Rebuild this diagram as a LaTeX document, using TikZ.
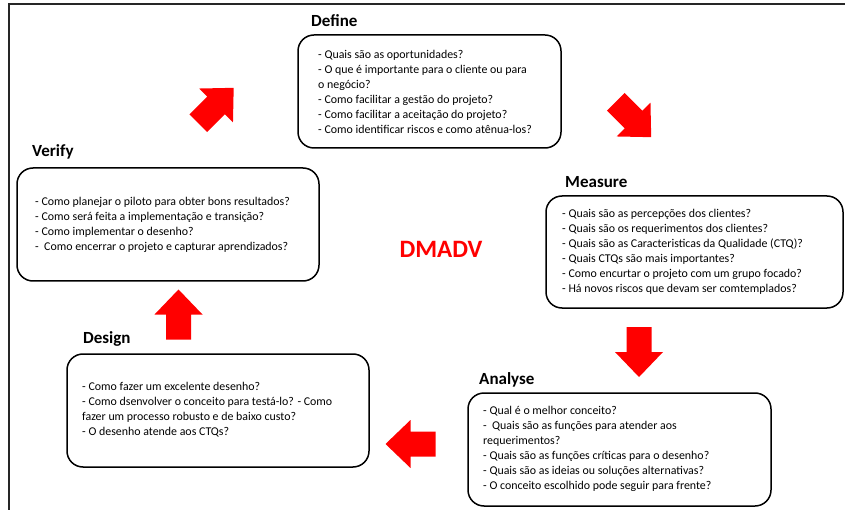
\documentclass[tikz,border=0pt]{standalone}
\usepackage{fontspec}
\setmainfont{Carlito}
\begin{document}
\begin{tikzpicture}[x=1pt,y=-1pt,
  panel/.style={draw=black, line width=1.5pt, rounded corners=16pt, inner sep=0pt},
  body/.style={anchor=west, align=left, inner sep=0pt, text=black,
               font=\fontsize{11.9}{15}\selectfont},
  heading/.style={anchor=base west, inner sep=0pt, text=black,
                  font=\fontsize{17}{20}\selectfont\bfseries},
  frame/.style={draw=black!85, line width=1.8pt},
  blockarrow/.pic={\fill[red] (-25,12.5) -- (0,12.5) -- (0,24) -- (25,0)
                    -- (0,-24) -- (0,-12.5) -- (-25,-12.5) -- cycle;}
]
\useasboundingbox (0,0) rectangle (845,510);

% outer frame (top and left edges)
\draw[frame] (9,512) -- (9,4) -- (847,4);

% panels
\node[panel, minimum width=263pt, minimum height=113pt] (define)  at (429.5,91.5) {};
\node[panel, minimum width=297pt, minimum height=112pt] (measure) at (694.5,252) {};
\node[panel, minimum width=303pt, minimum height=113pt] (analyse) at (619.5,449.5) {};
\node[panel, minimum width=302pt, minimum height=113pt] (design)  at (218,410.5) {};
\node[panel, minimum width=302pt, minimum height=113pt] (verify)  at (168,224.5) {};

% headings
\node[heading] (defineT)  at (311,27)  {Define};
\node[heading] (measureT) at (565,188) {Measure};
\node[heading] (analyseT) at (479,384) {Analyse};
\node[heading] (designT)  at (83,343)  {Design};
\node[heading] (verifyT)  at (32,157)  {Verify};

% panel texts
\node[body] (defineB) at (318,91.5) {- Quais são as oportunidades?\\
- O que é importante para o cliente ou para\\
o negócio?\\
- Como facilitar a gestão do projeto?\\
- Como facilitar a aceitação do projeto?\\
- Como identificar riscos e como atênua-los?};

\node[body] (measureB) at (562,252) {- Quais são as percepções dos clientes?\\
- Quais são os requerimentos dos clientes?\\
- Quais são as Caracteristicas da Qualidade (CTQ)?\\
- Quais CTQs são mais importantes?\\
- Como encurtar o projeto com um grupo focado?\\
- Há novos riscos que devam ser comtemplados?};

\node[body] (analyseB) at (483,448.5) {- Qual é o melhor conceito?\\
-\ \ Quais são as funções para atender aos\\
requerimentos?\\
- Quais são as funções críticas para o desenho?\\
- Quais são as ideias ou soluções alternativas?\\
- O conceito escolhido pode seguir para frente?};

\node[body] (designB) at (82,410) {- Como fazer um excelente desenho?\\
- Como dsenvolver o conceito para testá-lo? - Como\\
fazer um processo robusto e de baixo custo?\\
- O desenho atende aos CTQs?};

\node[body] (verifyB) at (35,224.5) {- Como planejar o piloto para obter bons resultados?\\
- Como será feita a implementação e transição?\\
- Como implementar o desenho?\\
-\ \ Como encerrar o projeto e capturar aprendizados?};

% centre title
\node[inner sep=0pt, text=red, font=\fontsize{25}{29}\selectfont\bfseries] (dmadv) at (441,249.5) {DMADV};

% cycle arrows
\pic[rotate=45]  at (216,105.5) {blockarrow};
\pic[rotate=-45] at (633.5,119.5) {blockarrow};
\pic[rotate=-90] at (639,352) {blockarrow};
\pic[rotate=180] at (410.5,444) {blockarrow};
\pic[rotate=90]  at (178.5,314.5) {blockarrow};
\end{tikzpicture}
\end{document}
